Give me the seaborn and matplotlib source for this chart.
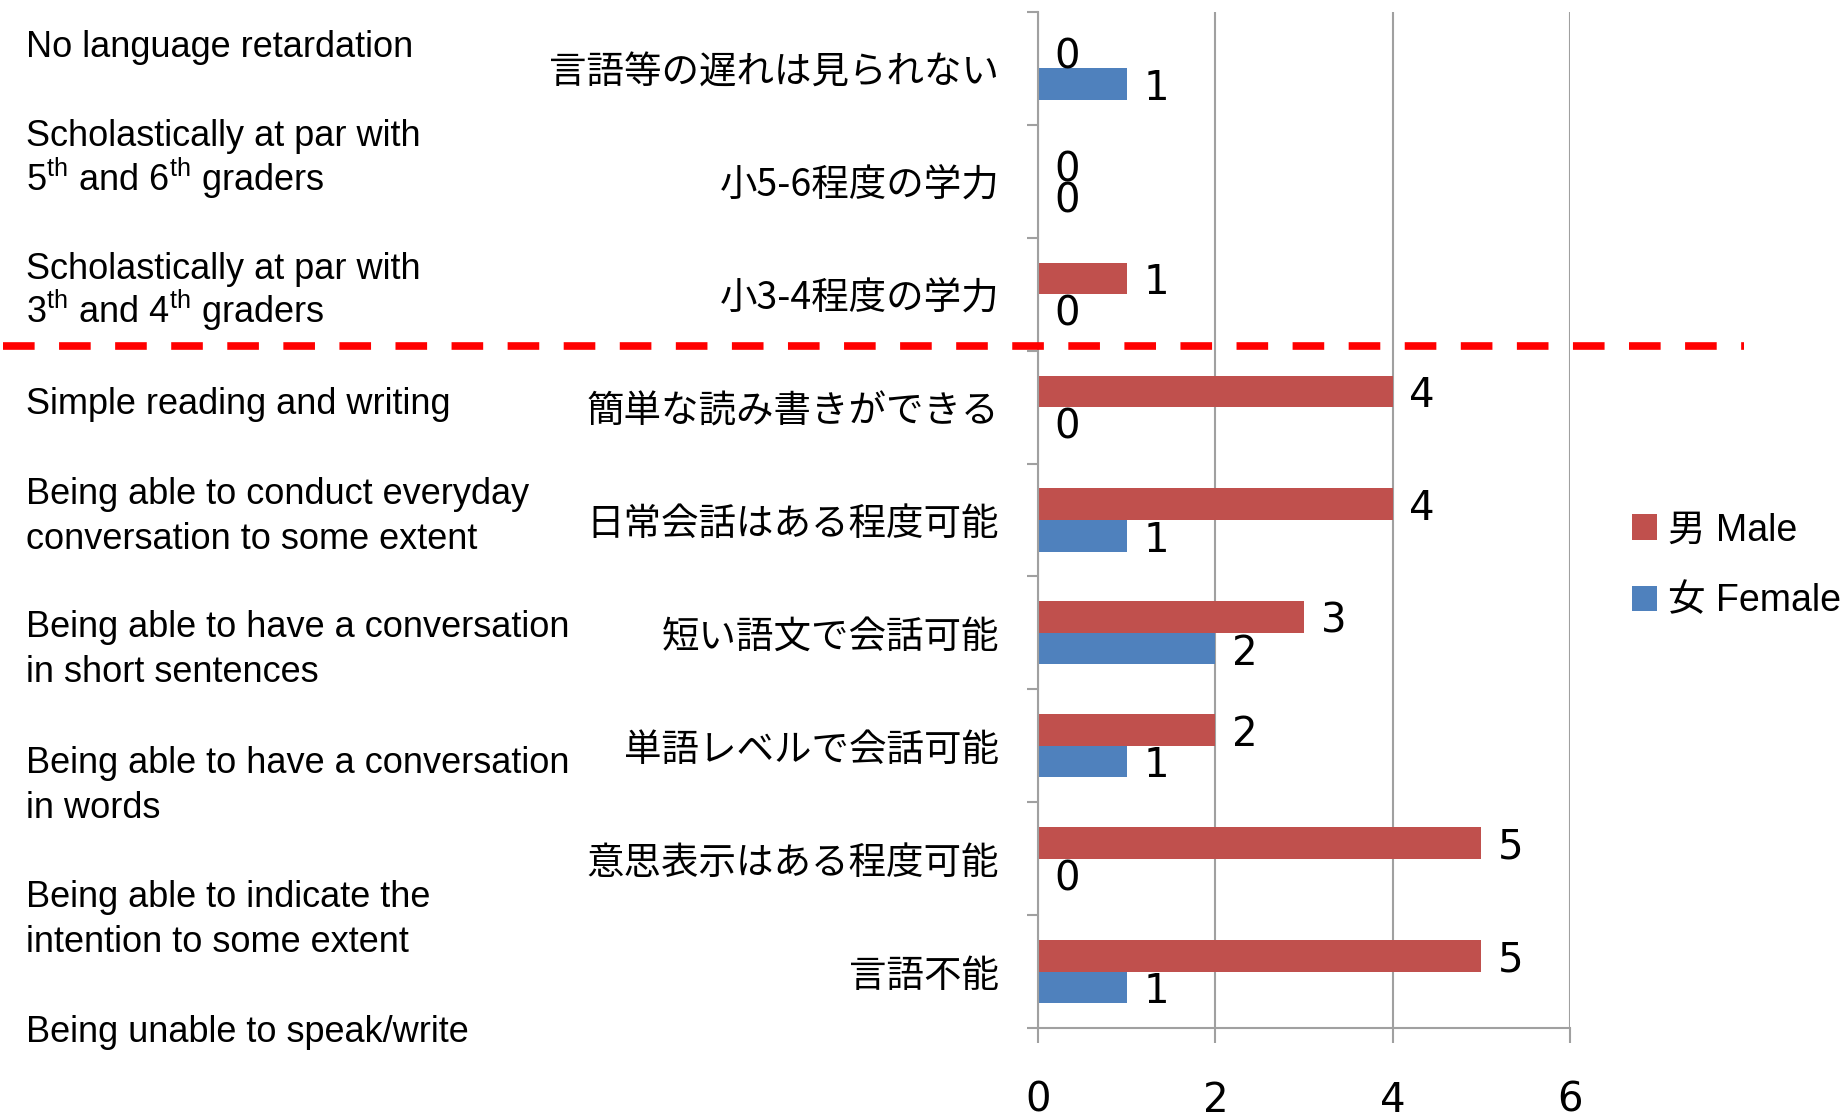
import matplotlib
matplotlib.use("Agg")
import matplotlib.pyplot as plt
import matplotlib.transforms as mtransforms
from matplotlib.font_manager import FontProperties
import seaborn as sns
import pandas as pd

# ---- data ----
categories_jp = [
    "言語等の遅れは見られない",
    "小5-6程度の学力",
    "小3-4程度の学力",
    "簡単な読み書きができる",
    "日常会話はある程度可能",
    "短い語文で会話可能",
    "単語レベルで会話可能",
    "意思表示はある程度可能",
    "言語不能",
]
male_values = [0, 0, 1, 4, 4, 3, 2, 5, 5]
female_values = [1, 0, 0, 0, 1, 2, 1, 0, 1]
series_names = ["男 Male", "女 Female"]
x_ticks = [0, 2, 4, 6]
english_lines = [
    "No language retardation",
    "Scholastically at par with",
    "5$^{\\mathrm{th}}$ and 6$^{\\mathrm{th}}$ graders",
    "Scholastically at par with",
    "3$^{\\mathrm{th}}$ and 4$^{\\mathrm{th}}$ graders",
    "Simple reading and writing",
    "Being able to conduct everyday",
    "conversation to some extent",
    "Being able to have a conversation",
    "in short sentences",
    "Being able to have a conversation",
    "in words",
    "Being able to indicate the",
    "intention to some extent",
    "Being unable to speak/write",
]
# baseline pixel positions (from top) of the English lines
english_baselines = [56.7, 146, 190.7, 279.3, 323.3, 414, 504, 549,
                     636.7, 682, 772.7, 818, 906.7, 951.7, 1041.7]

df = pd.DataFrame({
    "category": categories_jp * 2,
    "gender": [series_names[0]] * len(categories_jp) + [series_names[1]] * len(categories_jp),
    "value": male_values + female_values,
})

# ---- style ----
sns.set_theme(style="white")
plt.rcParams["font.family"] = ["DejaVu Sans", "Noto Sans CJK JP"]
plt.rcParams["mathtext.fontset"] = "custom"
plt.rcParams["mathtext.rm"] = "Liberation Sans"
plt.rcParams["mathtext.it"] = "Liberation Sans"
plt.rcParams["text.color"] = "black"
plt.rcParams["xtick.labelcolor"] = "black"
plt.rcParams["ytick.labelcolor"] = "black"

RED = "#C0504D"
BLUE = "#4F81BD"
GRID = "#A0A0A0"
W, H = 1848, 1116

fig = plt.figure(figsize=(W / 100, H / 100), dpi=100)
ax = fig.add_axes([1038 / W, 1 - 1028 / H, (1570 - 1038) / W, (1028 - 12) / H])

sns.barplot(data=df, y="category", x="value", hue="gender", order=categories_jp,
            hue_order=series_names, palette=[RED, BLUE], saturation=1, width=0.56,
            orient="h", linewidth=0, ax=ax)

ax.set_xlim(0, 6)
ax.set_ylim(8.5, -0.5)
ax.set_xlabel("")
ax.set_ylabel("")

# value labels (placed just beyond each bar end, slightly below centre)
for cont in ax.containers:
    for bar in cont:
        val = bar.get_width()
        yc = bar.get_y() + bar.get_height() / 2
        ax.annotate(f"{val:g}", xy=(val, yc), xytext=(12, -3.5),
                    textcoords="offset points", ha="left", va="center",
                    fontsize=29, family="DejaVu Sans", color="black",
                    annotation_clip=False)

# axes styling
for s in ["top", "right"]:
    ax.spines[s].set_visible(False)
for s in ["left", "bottom"]:
    ax.spines[s].set_color(GRID)
    ax.spines[s].set_linewidth(1.5)

ax.set_xticks(x_ticks)
ax.tick_params(axis="x", which="major", length=11, width=1.5, color=GRID,
               pad=27, labelsize=29, bottom=True, direction="out")
ax.xaxis.grid(True, color=GRID, linewidth=1.5)
ax.set_axisbelow(True)

ax.set_yticks(range(len(categories_jp)))
ax.set_yticklabels(categories_jp, fontsize=27, family=["Noto Sans CJK JP"])
ax.set_yticks([i - 0.5 for i in range(len(categories_jp) + 1)], minor=True)
ax.tick_params(axis="y", which="major", length=0, pad=28)
ax.tick_params(axis="y", which="minor", length=8, width=1.5, color=GRID, left=True, direction="out")

# red dashed separator
trans = mtransforms.blended_transform_factory(fig.transFigure, ax.transData)
ax.plot([3 / W, 1744 / W], [2.456, 2.456], transform=trans, clip_on=False,
        color="#FF0000", linewidth=5.5, linestyle=(0, (4.14, 3.2)), zorder=5)

# English annotations
for txt, b in zip(english_lines, english_baselines):
    fig.text(26 / W, 1 - b / H, txt, fontsize=26, va="baseline", ha="left",
             color="black", family=["Liberation Sans", "Noto Sans CJK JP"])

# legend
sns.move_legend(ax, "center left", bbox_to_anchor=(1632 / W, 1 - 566 / H),
                bbox_transform=fig.transFigure, frameon=False, title=None,
                prop=FontProperties(family=["Liberation Sans", "Noto Sans CJK JP"], size=27),
                handlelength=0.67, handleheight=0.67, handletextpad=0.3,
                borderpad=0, borderaxespad=0, labelspacing=0.94)

fig.savefig("out.png", dpi=100)
